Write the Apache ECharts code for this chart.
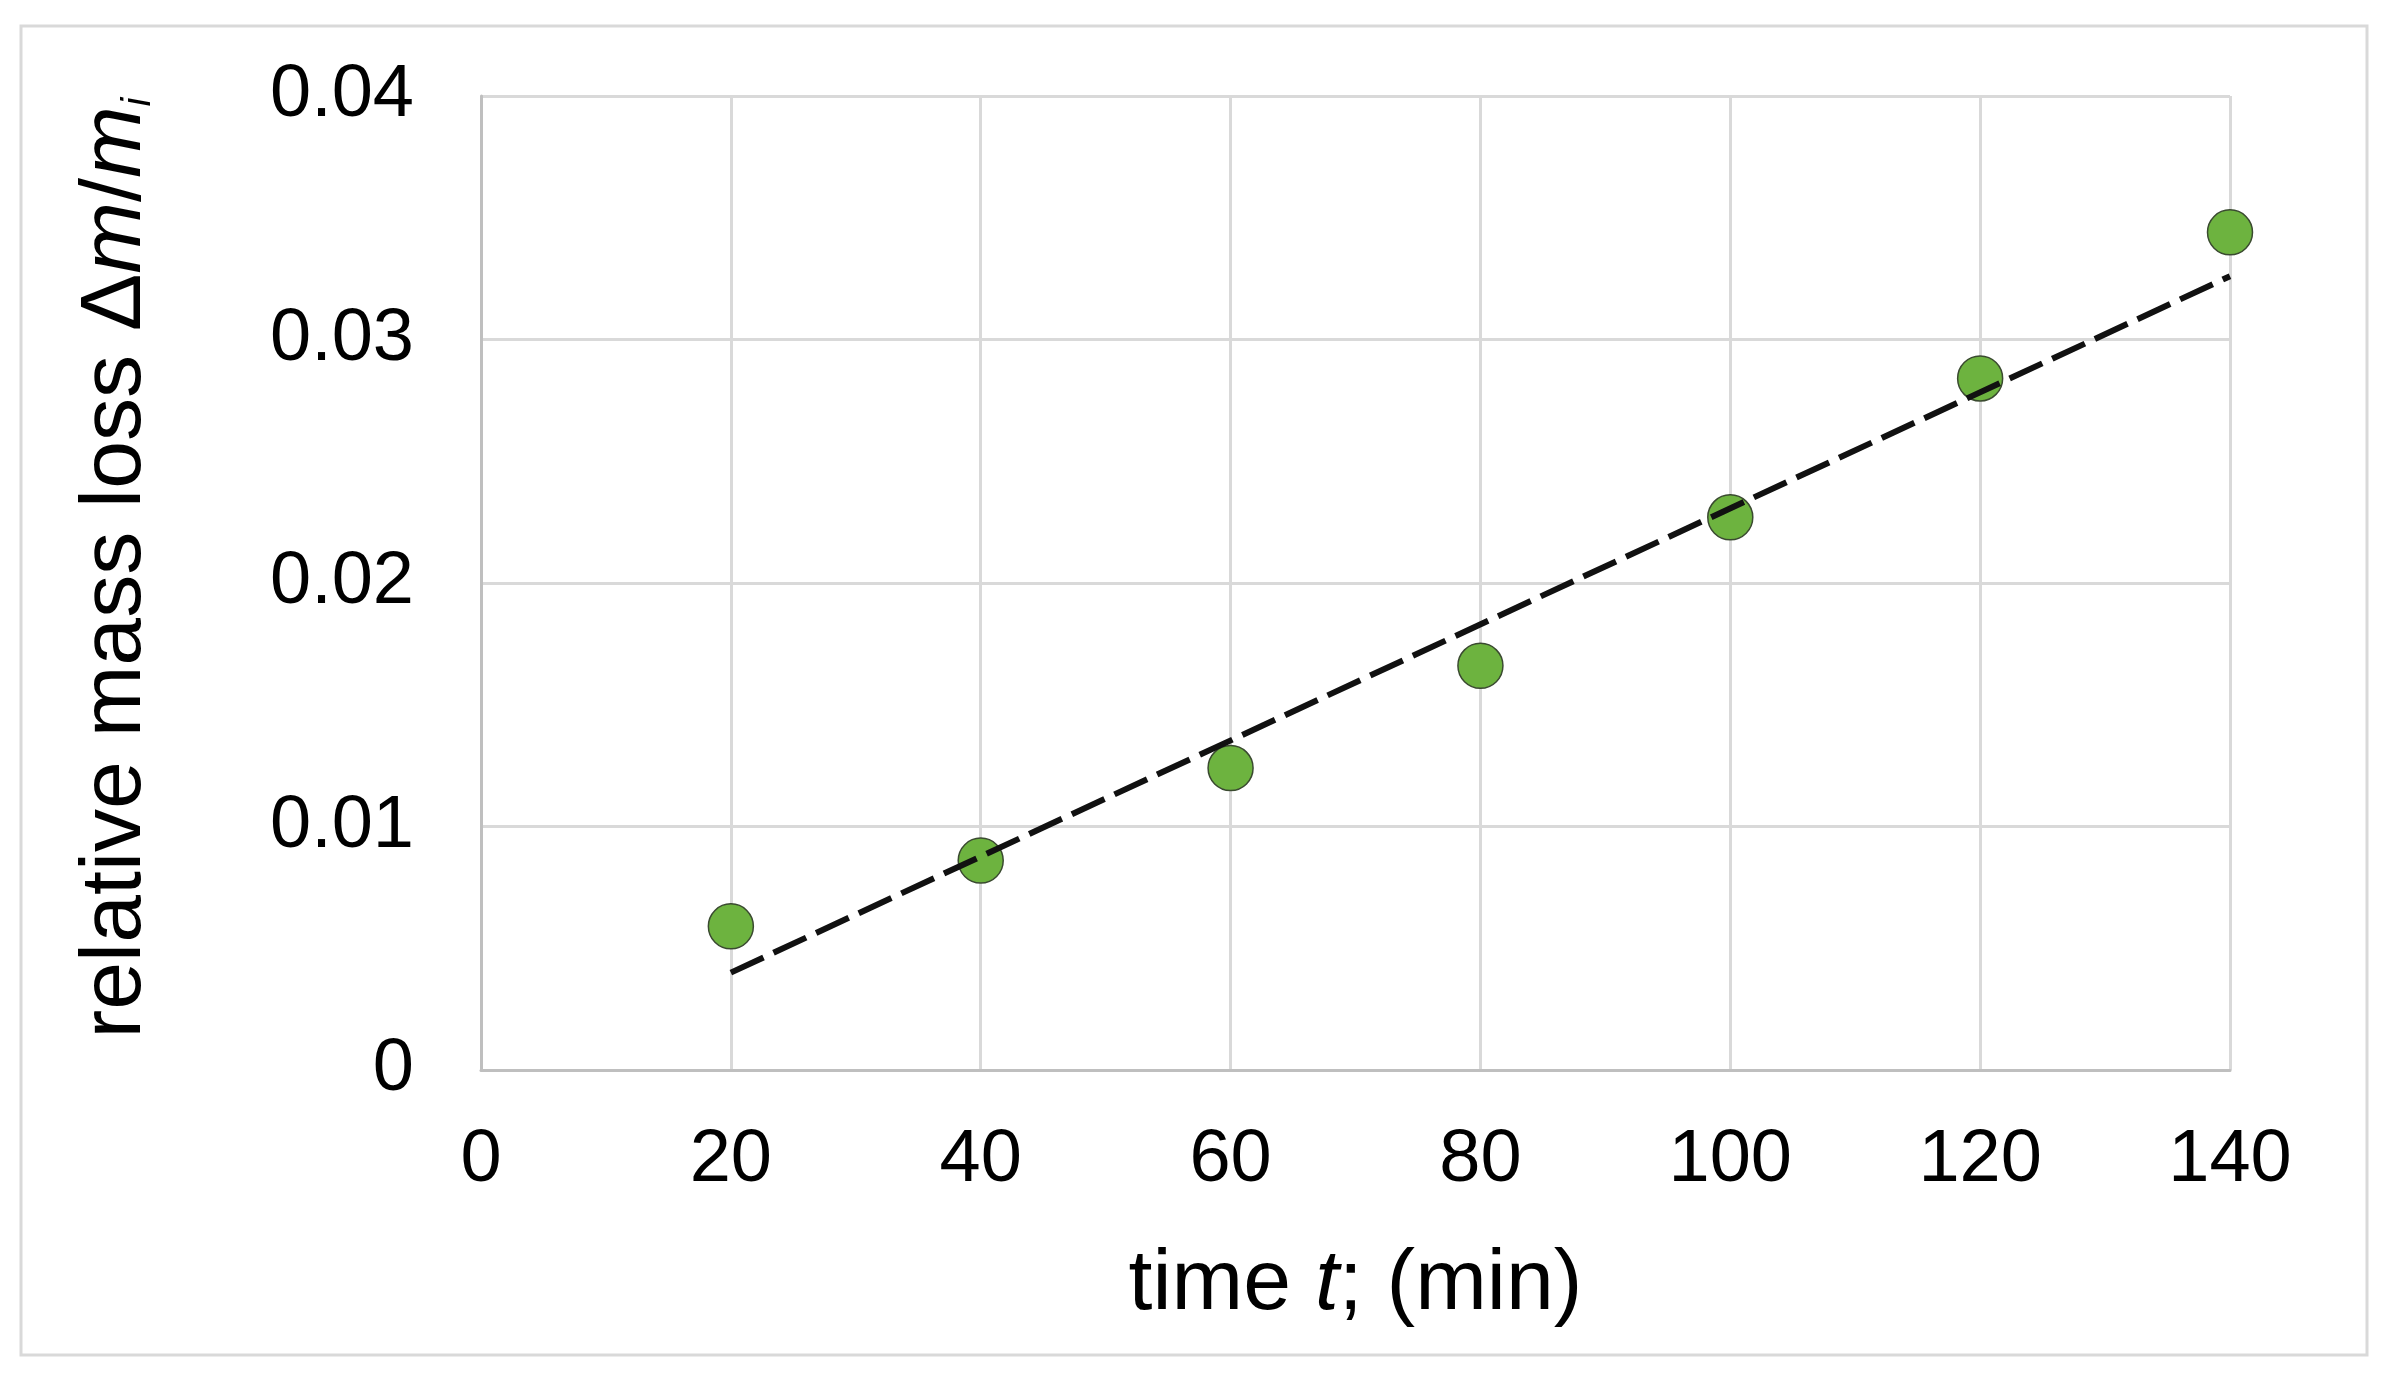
<!DOCTYPE html>
<html>
<head>
<meta charset="utf-8">
<script src="https://cdn.jsdelivr.net/npm/echarts@6/dist/echarts.min.js"></script>
<style>
  html, body { margin: 0; padding: 0; background: #fff; }
  #chart { width: 2387px; height: 1375px; }
</style>
</head>
<body>
<div id="chart"></div>
<script>
// measured points
const timeMin = [20, 40, 60, 80, 100, 120, 140];
const massLoss = [0.0059, 0.0086, 0.0124, 0.0166, 0.0227, 0.0284, 0.0344];
// linear trend line end points
const trendTime = [20, 140];
const trendLoss = [0.0040, 0.0326];
// axis ticks
const xTicks = [0, 20, 40, 60, 80, 100, 120, 140];
const yTicks = [0, 0.01, 0.02, 0.03, 0.04];
const yTickLabels = ["0", "0.01", "0.02", "0.03", "0.04"];

const chart = echarts.init(document.getElementById("chart"));
const font = "Liberation Sans, Arial, sans-serif";

const option = {
    backgroundColor: "#ffffff",
    animation: false,
    graphic: [
        {
            type: "rect",
            shape: { x: 21, y: 26, width: 2346, height: 1329 },
            style: { fill: "none", stroke: "#d9d9d9", lineWidth: 3 },
            silent: true
        }
    ],
    grid: { left: 481, right: 157, top: 96, bottom: 305 },
    xAxis: {
        type: "value",
        min: xTicks[0],
        max: xTicks[xTicks.length - 1],
        interval: 20,
        name: "{n|time }{i|t}{n|; (min)}",
        nameLocation: "middle",
        nameGap: 172,
        nameTextStyle: {
            rich: {
                n: { fontFamily: font, fontSize: 86, color: "#000" },
                i: { fontFamily: font, fontSize: 86, color: "#000", fontStyle: "italic" }
            }
        },
        axisLine: { show: true, lineStyle: { color: "#bfbfbf", width: 3 } },
        axisTick: { show: false },
        axisLabel: { margin: 54, fontFamily: font, fontSize: 74, color: "#000" },
        splitLine: { show: true, lineStyle: { color: "#d9d9d9", width: 3 } }
    },
    yAxis: {
        type: "value",
        min: yTicks[0],
        max: yTicks[yTicks.length - 1],
        interval: 0.01,
        name: "{n|relative mass loss Δ}{i|m}{n|/}{i|m}{s|i}",
        nameLocation: "middle",
        nameGap: 322,
        nameRotate: 90,
        nameTextStyle: {
            padding: [0, 0, 0, 30],
            rich: {
                n: { fontFamily: font, fontSize: 86, color: "#000" },
                i: { fontFamily: font, fontSize: 86, color: "#000", fontStyle: "italic" },
                s: { fontFamily: font, fontSize: 40, color: "#000", fontStyle: "italic", verticalAlign: "bottom" }
            }
        },
        axisLine: { show: true, lineStyle: { color: "#bfbfbf", width: 3 } },
        axisTick: { show: false },
        axisLabel: {
            margin: 67,
            fontFamily: font,
            fontSize: 74,
            color: "#000",
            formatter: function (v) {
                const k = yTicks.findIndex(t => Math.abs(t - v) < 1e-9);
                return k >= 0 ? yTickLabels[k] : String(v);
            }
        },
        splitLine: { show: true, lineStyle: { color: "#d9d9d9", width: 3 } }
    },
    series: [
        {
            type: "scatter",
            data: timeMin.map((t, i) => [t, massLoss[i]]),
            symbol: "circle",
            symbolSize: 45,
            itemStyle: { color: "#6db33f", opacity: 1, borderColor: "#3a4a30", borderWidth: 1.5 },
            z: 2
        },
        {
            type: "line",
            data: trendTime.map((t, i) => [t, trendLoss[i]]),
            showSymbol: false,
            symbol: "none",
            lineStyle: { color: "#111", width: 6, type: [36, 11] },
            z: 3
        }
    ]
};

chart.setOption(option);
</script>
</body>
</html>
